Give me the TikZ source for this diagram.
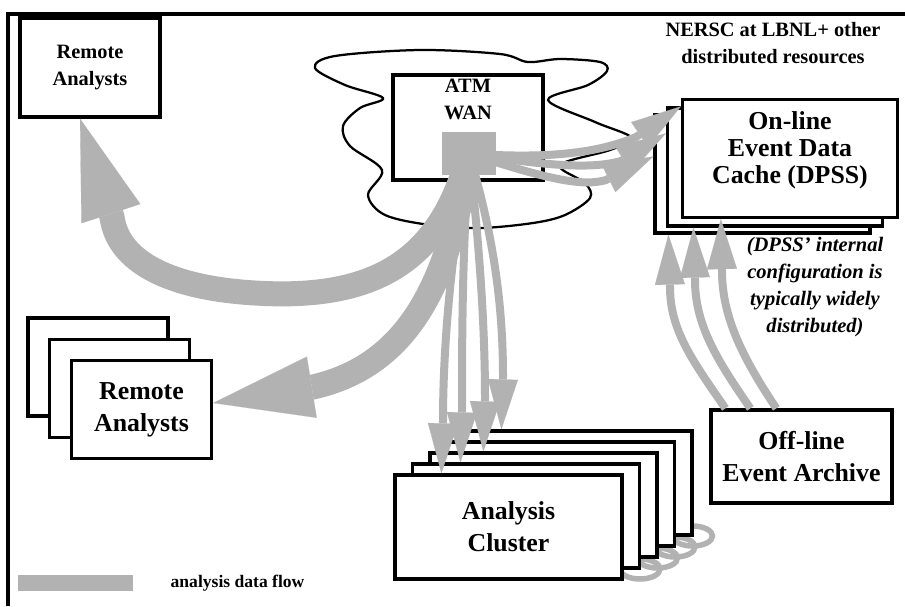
\documentclass[tikz,border=0pt]{standalone}
\usepackage{fontspec}
\setmainfont{Liberation Serif}
\usetikzlibrary{positioning, arrows.meta}

\colorlet{flow}{black!30}
\colorlet{ink}{black}
\tikzset{
  box/.style     ={draw=ink, line width=0.065cm, fill=white, inner sep=0pt,
                   align=center},
  lbl/.style     ={font=\bfseries\fontsize{11.6}{15.3}\selectfont,
                   align=center, inner sep=0pt},
  lblbig/.style  ={font=\bfseries\fontsize{14.7}{18.4}\selectfont,
                   align=center, inner sep=0pt},
  lbldpss/.style ={font=\bfseries\fontsize{14.7}{15.3}\selectfont,
                   align=center, inner sep=0pt},
  note/.style    ={font=\bfseries\itshape\fontsize{11.7}{15.3}\selectfont,
                   align=center, inner sep=0pt},
  wancloud/.style={draw=ink, line width=0.045cm, fill=white},
  coilring/.style={draw=flow, line width=0.11cm},
  fatflow/.style ={draw=flow, line width=0.5cm,
                   -{Triangle[length=2cm, width=1.24cm, line width=0.1pt]}},
  thinflow/.style={draw=flow, line width=0.16cm,
                   -{Triangle[length=1cm, width=0.6cm, line width=0.1pt]}},
}

\begin{document}
\begin{tikzpicture}[x=0.02cm, y=-0.02cm]
\useasboundingbox (0,0) rectangle (905,606);

% page frame, only its top and left edges fall on the page
\draw[ink, line width=0.065cm] (8,606) -- (8,14) -- (905,14);

% ATM WAN cloud and its box
\draw[wancloud] plot[smooth cycle, tension=0.55] coordinates {
  (315,68) (335,56) (420,50) (500,54) (528,62) (560,59) (600,62) (607,71)
  (588,85) (548,100) (595,122) (632,138) (610,150) (560,165) (585,183)
  (590,198) (565,215) (533,223) (480,228) (430,225) (385,215) (368,195)
  (382,170) (350,146) (343,126) (360,108) (383,98) (345,85)};
\node[box, minimum width=3cm, minimum height=2.1cm] (ATM) at (468,127.5) {};
\node[lbl, below=0.1cm of ATM.north] (ATMtxt) {ATM\\WAN};

% remote analysts, top left
\node[box, lbl, minimum width=2.8cm, minimum height=1.98cm] (RA)
  at (90,67.5) {Remote\\Analysts};

% remote analysts, stacked
\foreach \n/\x/\y in {RS3/98/367, RS2/119.5/388.5, RS1/141.5/409.5}
  \node[box, minimum width=2.8cm, minimum height=1.96cm] (\n) at (\x,\y) {};
\node[lblbig] (RStxt) at (RS1) {Remote\\Analysts};

% on-line event data cache, stacked
\foreach \n/\x/\y in {DP3/762.5/174, DP2/775/167, DP1/790/158.5}
  \node[box, minimum width=4.3cm, minimum height=2.36cm] (\n) at (\x,\y) {};
\node[lbldpss] (DPtxt) at (790,150) {On-line\\Event Data\\Cache (DPSS)};

% coil under the cluster
\foreach \k in {0,...,3}
  \draw[coilring] ({640+17.5*\k},{569-11*\k})
    ellipse [x radius=0.4cm, y radius=0.2cm];

% analysis cluster, five deep
\foreach \k in {4,...,0}
  \node[box, minimum width=4.54cm, minimum height=2.08cm] (CL\k)
    at ({508.5+17.5*\k},{527-11*\k}) {};
\node[lblbig] (CLtxt) at (CL0) {Analysis\\Cluster};

% off-line archive
\node[box, lblbig, minimum width=3.62cm, minimum height=1.86cm] (OFF)
  at (801.5,456.5) {Off-line\\Event Archive};

% side texts
\node[lbl] (NERSC) at (773,43) {NERSC at LBNL+ other\\distributed resources};
\node[note] (NOTE) at (815,287)
  {(DPSS' internal\\configuration is\\typically widely\\distributed)};

% switch square inside the WAN box
\node[fill=flow, minimum width=1.08cm, minimum height=0.86cm, inner sep=0pt]
  (HUB) at (469,153.5) {};

% fat flows to the remote analysts
\draw[fatflow] (HUB.center) .. controls (440,265) and (370,300) .. (255,293)
  .. controls (170,288) and (118,262) .. (112,217) -- ([xshift=-0.2cm]RA.south);
\draw[fatflow] (HUB.center) .. controls (450,280) and (410,365) .. (313,387)
  -- ([yshift=0.13cm]RS1.east);

% flows to the cache
\draw[thinflow] (HUB.center) .. controls (560,160) and (605,150) .. (636,137)
  -- ([yshift=-0.17cm]DP1.north west);
\draw[thinflow] (HUB.center) .. controls (560,168) and (595,168) .. (621,161)
  -- ([yshift=-0.54cm]DP2.north west);
\draw[thinflow] (HUB.center) .. controls (555,182) and (585,186) .. (606,180)
  -- ([yshift=-0.86cm]DP3.north west);

% flows down to the cluster
\draw[thinflow] (HUB.center) .. controls (450,260) and (443,350) .. (443,421)
  -- ([xshift=0.96cm]CL0.north west);
\draw[thinflow] (HUB.center) .. controls (462,260) and (462,340) .. (462,410)
  -- ([xshift=0.99cm]CL1.north west);
\draw[thinflow] (HUB.center) .. controls (480,250) and (485,330) .. (485,399)
  -- ([xshift=1.1cm]CL2.north west);
\draw[thinflow] (HUB.center) .. controls (495,240) and (503,310) .. (503,377)
  -- ([xshift=0.76cm]CL4.north west);

% archive up to the cache
\draw[thinflow] ([xshift=0.32cm]OFF.north west) .. controls (692,360) and (670,330)
  .. (670,287) -- ([xshift=0.3cm]DP3.south west);
\draw[thinflow] ([xshift=0.82cm]OFF.north west) .. controls (717,360) and (695,325)
  .. (695,280) -- ([xshift=0.55cm]DP2.south west);
\draw[thinflow] ([xshift=1.34cm]OFF.north west) .. controls (744,360) and (722,318)
  .. (722,271) -- ([xshift=0.8cm]DP1.south west);

% legend
\node[fill=flow, minimum width=2.3cm, minimum height=0.32cm, inner sep=0pt]
  (LEG) at (75.5,583) {};
\node[font=\bfseries\fontsize{10}{12}\selectfont, inner sep=0pt,
  right=0.74cm of LEG] (LEGtxt) {analysis data flow};

\end{tikzpicture}
\end{document}
